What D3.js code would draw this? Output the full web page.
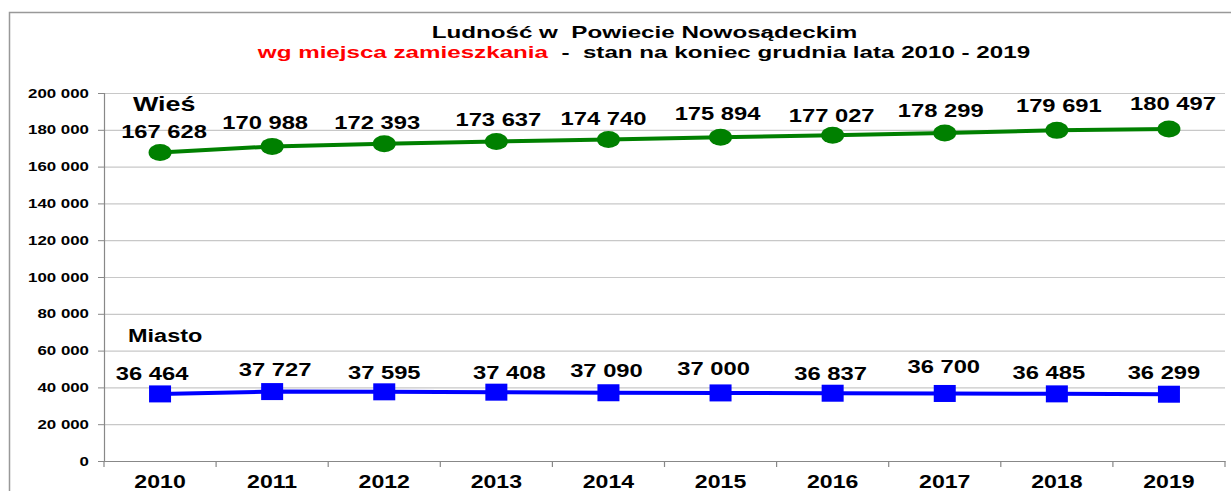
<!DOCTYPE html>
<html><head><meta charset="utf-8">
<script src="https://cdn.jsdelivr.net/npm/d3@7"></script>
<style>body{margin:0;background:#fff}svg{display:block;font-family:Arial,"Liberation Sans",sans-serif}text{white-space:pre}</style>
</head><body>
<svg id="c" width="1231" height="491"></svg>
<script>
const years = ["2010","2011","2012","2013","2014","2015","2016","2017","2018","2019"];
const wies = [167628,170988,172393,173637,174740,175894,177027,178299,179691,180497];
const miasto = [36464,37727,37595,37408,37090,37000,36837,36700,36485,36299];
const yTicks = [0,20000,40000,60000,80000,100000,120000,140000,160000,180000,200000];

const svg = d3.select("#c");
const fmt = v => d3.format(",")(v).replace(/,/g, "\u00a0");

// outer frame
svg.append("rect").attr("x",9.5).attr("y",12.5).attr("width",1240).attr("height",500)
  .attr("fill","none").attr("stroke","#999").attr("stroke-width",1.5);

const L = 104, R = 1225, T = 93, B = 461;
const x = d3.scaleBand().domain(years).range([L,R]);
const y = d3.scaleLinear().domain([0,200000]).range([B,T]);
const cx = d => x(d) + x.bandwidth()/2;

// label nudges (hand-placed labels in the original)
const nudgeW = {dx:[4,-7,-7,2,-5,-3,-1,-4,2,4], dy:[15,17,15,16,14,17,13,16,18,19]};
const nudgeM = {dx:[-8,3,0,13,-2,-7,-2,-1,-8,-5], dy:[14,16,13,13,16,18,13,20,15,15]};

function stxt(sel, px, py, sx) {
  return sel.attr("transform",(d,i)=>`translate(${typeof px==="function"?px(d,i):px},${typeof py==="function"?py(d,i):py}) scale(${sx},1)`);
}

// gridlines
svg.append("g").selectAll("line").data(yTicks.filter(d=>d>0)).join("line")
  .attr("x1",L).attr("x2",R).attr("y1",d=>y(d)+0.5).attr("y2",d=>y(d)+0.5)
  .attr("stroke","#c8c8c8").attr("stroke-width",1.2);

// y axis
const ya = svg.append("g").attr("transform",`translate(${L},0)`)
  .call(d3.axisLeft(y).tickValues(yTicks).tickFormat("").tickSize(6));
ya.select(".domain").attr("stroke","#888").attr("stroke-width",1.2);
ya.selectAll(".tick line").attr("stroke","#888");
stxt(svg.append("g").selectAll("text").data(yTicks).join("text"), L-15, d=>y(d)+4.5, 1.35)
  .attr("text-anchor","end").attr("font-size",12.5).attr("font-weight","bold").attr("fill","#000").text(fmt);

// x axis
const xa = svg.append("g").attr("transform",`translate(0,${B})`)
  .call(d3.axisBottom(x).tickSize(0).tickFormat(""));
xa.select(".domain").attr("stroke","#888").attr("stroke-width",1.2);
stxt(svg.append("g").selectAll("text").data(years).join("text"), d=>cx(d), B+27, 1.32)
  .attr("text-anchor","middle").attr("font-size",17.5).attr("font-weight","bold").attr("fill","#000").text(d=>d);
// band boundary ticks
svg.append("g").selectAll("line").data(years.concat(["end"])).join("line")
  .attr("x1",(d,i)=> i<years.length ? x(d) : R).attr("x2",(d,i)=> i<years.length ? x(d) : R)
  .attr("y1",B).attr("y2",B+6).attr("stroke","#888").attr("stroke-width",1.2);

const line = d3.line().x((d,i)=>cx(years[i])).y(d=>y(d));

// Wieś line
svg.append("path").datum(wies).attr("d",line).attr("fill","none")
  .attr("stroke","#008000").attr("stroke-width",4);
svg.append("g").selectAll("ellipse").data(wies).join("ellipse")
  .attr("cx",(d,i)=>cx(years[i])).attr("cy",d=>y(d)).attr("rx",11.5).attr("ry",8.5)
  .attr("fill","#008000");
stxt(svg.append("g").selectAll("text").data(wies).join("text"),
     (d,i)=>cx(years[i])+nudgeW.dx[i], (d,i)=>y(d)-nudgeW.dy[i], 1.25)
  .attr("text-anchor","middle").attr("font-size",19).attr("font-weight","bold").text(fmt);

// Miasto line
svg.append("path").datum(miasto).attr("d",line).attr("fill","none")
  .attr("stroke","#0000ff").attr("stroke-width",4);
svg.append("g").selectAll("rect").data(miasto).join("rect")
  .attr("x",(d,i)=>cx(years[i])-11).attr("y",d=>y(d)-8.5).attr("width",22).attr("height",17)
  .attr("fill","#0000ff");
stxt(svg.append("g").selectAll("text").data(miasto).join("text"),
     (d,i)=>cx(years[i])+nudgeM.dx[i], (d,i)=>y(d)-nudgeM.dy[i], 1.25)
  .attr("text-anchor","middle").attr("font-size",19).attr("font-weight","bold").text(fmt);

// series names
stxt(svg.append("text"),133,111,1.28).attr("font-size",21).attr("font-weight","bold").text("Wieś");
stxt(svg.append("text"),128,342,1.27).attr("font-size",18.5).attr("font-weight","bold").text("Miasto");

// title
stxt(svg.append("text"),644.5,38,1.465).attr("text-anchor","middle")
  .attr("font-size",16.5).attr("font-weight","bold").text("Ludność w  Powiecie Nowosądeckim");
const t2 = stxt(svg.append("text"),644,58,1.465).attr("text-anchor","middle")
  .attr("font-size",16.5).attr("font-weight","bold");
t2.append("tspan").attr("fill","#ff0000").text("wg miejsca zamieszkania");
t2.append("tspan").attr("fill","#000").text("  -  stan na koniec grudnia lata 2010 - 2019");
</script>
</body></html>
